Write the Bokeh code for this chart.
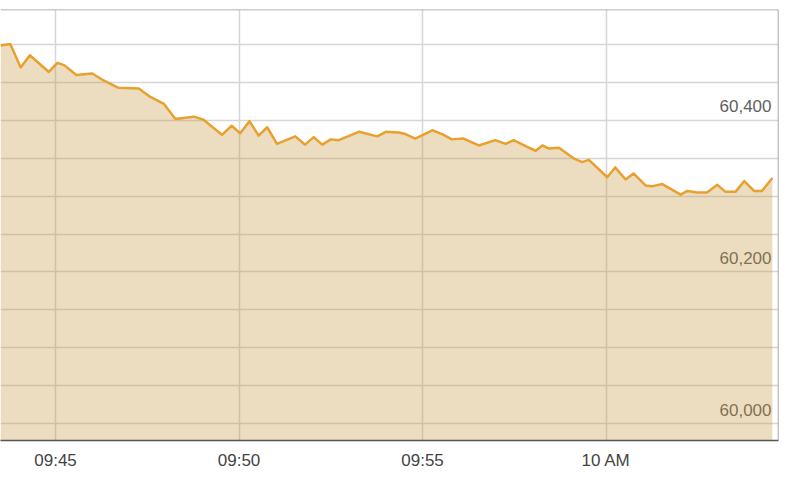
from bokeh.plotting import figure
from bokeh.models import Range1d, FixedTicker, Span, ColumnDataSource
from bokeh.core.properties import value
from bokeh.embed import file_html
from bokeh.resources import INLINE

# ---- data ----
times = ["09:43:30", "09:43:46", "09:44:03", "09:44:18", "09:44:49", "09:45:03", "09:45:14",
         "09:45:34", "09:46:00", "09:46:16", "09:46:43", "09:47:16", "09:47:35", "09:47:57",
         "09:48:16", "09:48:46", "09:49:02", "09:49:32", "09:49:48", "09:50:02", "09:50:17",
         "09:50:32", "09:50:46", "09:51:02", "09:51:32", "09:51:48", "09:52:02", "09:52:16",
         "09:52:30", "09:52:43", "09:53:16", "09:53:46", "09:54:00", "09:54:21", "09:54:32",
         "09:54:48", "09:55:16", "09:55:32", "09:55:48", "09:56:07", "09:56:32", "09:56:59",
         "09:57:16", "09:57:29", "09:57:51", "09:58:05", "09:58:16", "09:58:26", "09:58:43",
         "09:59:07", "09:59:21", "09:59:32", "10:00:02", "10:00:15", "10:00:32", "10:00:45",
         "10:01:05", "10:01:15", "10:01:32", "10:01:45", "10:02:02", "10:02:13", "10:02:29",
         "10:02:45", "10:03:02", "10:03:15", "10:03:32", "10:03:46", "10:04:02", "10:04:15",
         "10:04:32"]
prices = [60499, 60501, 60470, 60486, 60464, 60476, 60473, 60460, 60462, 60454, 60443, 60442,
          60431, 60422, 60402, 60405, 60401, 60381, 60393, 60383, 60399, 60380, 60391, 60369,
          60379, 60368, 60378, 60368, 60375, 60374, 60385, 60379, 60385, 60384, 60382, 60376,
          60387, 60382, 60375, 60376, 60367, 60374, 60369, 60374, 60365, 60360, 60367, 60363,
          60364, 60350, 60345, 60348, 60325, 60338, 60322, 60330, 60314, 60313, 60316, 60310,
          60302, 60307, 60305, 60305, 60315, 60306, 60306, 60320, 60307, 60307, 60324]

x_tick_times = ["09:45", "09:50", "09:55", "10:00"]
x_tick_labels = ["09:45", "09:50", "09:55", "10 AM"]
y_grid_values = [60000, 60050, 60100, 60150, 60200, 60250, 60300, 60350, 60400, 60450, 60500]
y_label_values = [60000, 60200, 60400]
y_label_texts = ["60,000", "60,200", "60,400"]


def to_minutes(s):
    parts = [int(v) for v in s.split(":")]
    h, m = parts[0], parts[1]
    sec = parts[2] if len(parts) > 2 else 0
    return (h - 9) * 60 + m + sec / 60.0


xs = [to_minutes(t) for t in times]
x_ticks = [to_minutes(t) for t in x_tick_times]

X0, X1 = to_minutes("09:43:30"), to_minutes("10:04:42")
Y0, Y1 = 59977.6, 60546.4

p = figure(width=800, height=480, output_backend="svg", toolbar_location=None,
           x_range=Range1d(X0, X1), y_range=Range1d(Y0, Y1),
           min_border_left=0, min_border_right=22, min_border_top=9, min_border_bottom=40)
p.outline_line_color = None
p.background_fill_color = "white"
p.border_fill_color = "white"

# grids
p.xaxis.ticker = FixedTicker(ticks=x_ticks)
p.xgrid.ticker = FixedTicker(ticks=x_ticks)
p.yaxis.visible = False
p.ygrid.ticker = FixedTicker(ticks=y_grid_values)
for g in (p.xgrid, p.ygrid):
    g.grid_line_color = "#d6d6d6"
    g.grid_line_width = 1.5

# axis
ax = p.xaxis[0]
ax.major_label_overrides = {t: l for t, l in zip(x_ticks, x_tick_labels)}
ax.axis_line_color = "#555555"
ax.axis_line_width = 1.5
ax.major_tick_line_color = None
ax.minor_tick_line_color = None
ax.major_label_standoff = 4
ax.major_label_text_font = "Liberation Sans"
ax.major_label_text_font_size = "17px"
ax.major_label_text_color = "#444444"

# y labels inside the plot, right-aligned, under the area
src_lab = ColumnDataSource(dict(x=[X1] * len(y_label_values), y=y_label_values, t=y_label_texts))
p.text(x="x", y="y", text="t", source=src_lab, text_align="right", text_baseline="bottom",
       x_offset=-7, y_offset=-8, text_font=value("Liberation Sans"), text_font_size="17px",
       text_color="#606060", level="underlay")

# area + line
src = ColumnDataSource(dict(x=xs, y=prices))
p.varea(x="x", y1=Y0 - 50, y2="y", source=src, fill_color="#c8963a", fill_alpha=0.32)
p.line(x="x", y="y", source=src, line_color="#e8a02e", line_width=2.5, line_join="round")

# frame borders (top and right)
p.add_layout(Span(location=Y1, dimension="width", line_color="#9a9a9a", line_width=1.5))
p.add_layout(Span(location=X1, dimension="height", line_color="#8a8a8a", line_width=1.5))

open("out.html", "w").write(file_html(p, INLINE))
